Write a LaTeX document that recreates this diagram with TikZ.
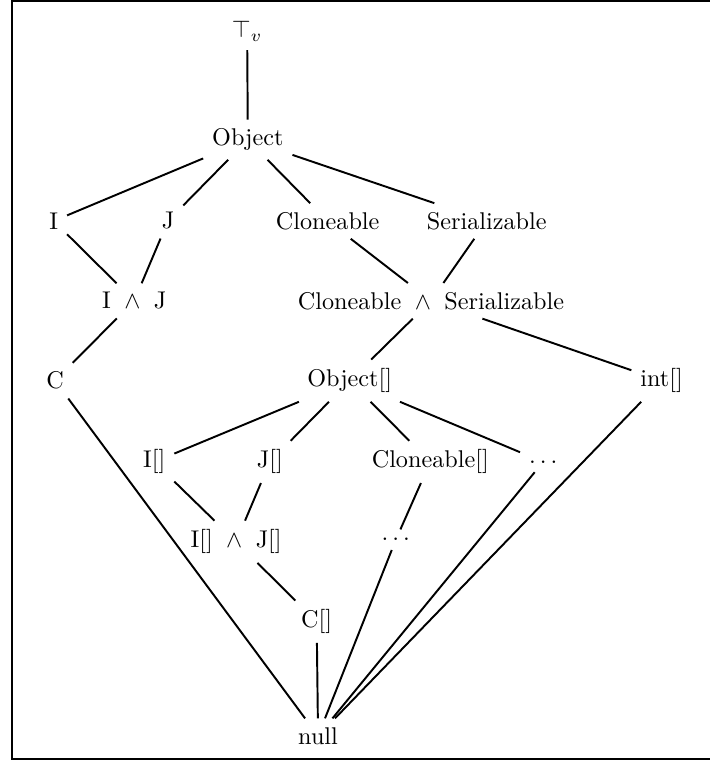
\documentclass[tikz,border=0pt]{standalone}
\usepackage{tikz}
\usetikzlibrary{calc}

\begin{document}
\begin{tikzpicture}[thick, edge/.style = {thick}]
	\useasboundingbox (0,0) rectangle (10.30,-11.04);
	\draw[thick] (10.6,-0.015) -- (0.174,-0.015) -- (0.174,-11.02) -- (10.6,-11.02) ; % frame

	\node (top) at (3.59,-0.45) {$\top_v$};
	\node (obj) at (3.60,-2.03) {Object};
	
	\node (i)   at (0.78,-3.21) {I};
	\node (j)   at (2.44,-3.21) {J};
	\node (cl)  at (4.76,-3.21) {Cloneable};
	\node (ser) at (7.07,-3.21) {Serializable};
	
	\node (ij) at (1.95,-4.37) {I $\:\wedge\:$ J};
	\node (cs) at (6.26,-4.37) {Cloneable $\:\wedge\:$ Serializable};
	
	\node (c)      at (0.80,-5.53) {C};
	\node (objarr) at (5.08,-5.53) {Object[]};
	\node (intarr) at (9.61,-5.53) {int[]};
	
	\node (iarr)  at (2.24,-6.71) {I[]};
	\node (jarr)  at (3.92,-6.71) {J[]};
	\node (clarr) at (6.25,-6.71) {Cloneable[]};
	\node (dotsr) at (7.89,-6.71) {$\dots$};
	
	\node (ijarr) at (3.43,-7.87) {I[] $\:\wedge\:$ J[]};
	\node (dotsm) at (5.75,-7.84) {$\dots$};
	
	\node (carr) at (4.60,-9.03) {C[]};
	\node (null) at (4.62,-10.69) {null};
	
	% upper part
	\draw[edge] (top) -- (obj);
	\draw[edge] (obj) -- (i);
	\draw[edge] (obj) -- (j);
	\draw[edge] (obj) -- (cl);
	\draw[edge] (obj) -- (ser);
	\draw[edge] (i) -- (ij);
	\draw[edge] (j) -- (ij);
	\draw[edge] (cl) -- (cs);
	\draw[edge] (ser) -- (cs);
	\draw[edge] (ij) -- (c);
	\draw[edge] (cs) -- (objarr);
	\draw[edge] (cs) -- (intarr);
	
	% arrays
	\draw[edge] (objarr) -- (iarr);
	\draw[edge] (objarr) -- (jarr);
	\draw[edge] (objarr) -- (clarr);
	\draw[edge] (objarr) -- (dotsr);
	\draw[edge] (iarr) -- (ijarr);
	\draw[edge] (jarr) -- (ijarr);
	\draw[edge] (clarr) -- (dotsm);
	\draw[edge] (ijarr) -- (carr);
	
	% down to null
	\draw[edge] (c) -- (null);
	\draw[edge] (carr) -- (null);
	\draw[edge] (dotsm) -- (null);
	\draw[edge] (dotsr) -- (null);
	\draw[edge] (intarr) -- (null);
\end{tikzpicture}
\end{document}
